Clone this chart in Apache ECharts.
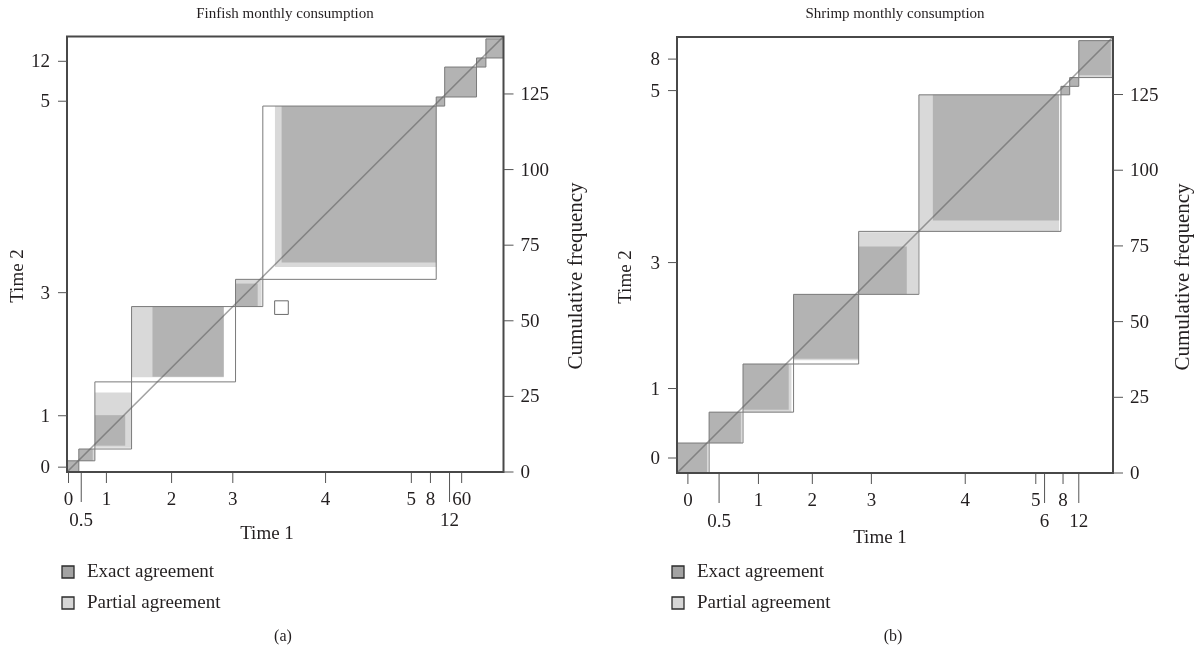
<!DOCTYPE html>
<html><head><meta charset="utf-8">
<script src="https://cdn.jsdelivr.net/npm/echarts@6/dist/echarts.min.js"></script>
<style>html,body{margin:0;padding:0;background:#fff}#c{width:1199px;height:656px}</style>
</head><body><div id="c"></div>
<script>
// ---------- DATA (cumulative frequency units) ----------
const N = 144;
// Panel (a) Finfish: each rectangle = [x0, x1, y0, y1]
const finCategories = ['0','0.5','1','2','3','4','5','8','12','60'];
const finBoxes = [
  [0,3.9,0,3.7],[3.9,9.2,3.7,7.6],[9.2,21.3,7.6,29.8],[21.3,55.6,29.8,54.7],
  [55.6,64.6,54.7,63.7],[64.6,121.8,63.7,121.0],[121.8,124.6,121.0,124.0],
  [124.6,135.1,124.0,133.9],[135.1,138.2,133.9,136.9],[138.2,144,136.9,143.2]
];
const finPartial = [
  [0,3.9,0,3.7],[3.9,9.2,3.7,7.6],[9.2,21.3,8.0,26.3],[21.3,51.7,31.3,54.7],
  [55.6,64.2,54.7,63.7],[68.6,121.8,67.8,121.0],[121.8,124.6,121.0,124.0],
  [124.6,135.1,124.0,133.9],[135.1,138.2,133.9,136.9],[138.2,144,136.9,143.2]
];
const finExact = [
  [0,3.9,0,3.7],[3.9,8.5,3.7,7.6],[9.2,19.2,8.7,18.8],[28.2,51.7,31.5,54.7],
  [55.6,62.9,54.7,62.3],[70.8,121.8,69.3,121.0],[121.8,124.6,121.0,124.0],
  [124.6,135.1,124.0,133.9],[135.1,138.2,133.9,136.9],[138.2,144,136.9,143.2]
];
const finEmpty = [[68.5,73.0,52.1,56.6]];
const finLeftTickPos = [1.6,18.6,59.3,122.6,135.8];
const finLeftTickLabels = ['0','1','3','5','12'];
const finBottomTickPos = [0.5,4.7,13.0,34.5,54.7,85.3,113.6,119.9,126.2,130.2];
const finBottomTickLabels = ['0','0.5','1','2','3','4','5','8','12','60'];
const finBottomTickLong = [0,1,0,0,0,0,0,0,1,0];

// Panel (b) Shrimp
const shrCategories = ['0','0.5','1','2','3','4','5','6','8','12'];
const shrBoxes = [
  [0,10.6,0,9.9],[10.6,21.8,9.9,20.1],[21.8,38.5,20.1,36.0],[38.5,60.0,36.0,59.0],
  [60.0,79.9,59.0,79.8],[79.9,126.8,79.8,124.9],[126.8,129.7,124.9,127.7],
  [129.7,132.7,127.7,130.6],[132.7,144,130.6,142.8]
];
const shrPartial = [
  [0,10.3,0,9.9],[10.6,21.5,9.9,20.1],[21.8,37.8,20.1,36.0],[38.5,60.0,37.2,59.0],
  [60.0,79.6,59.0,79.5],[79.9,126.2,79.8,124.9],[126.8,129.7,124.9,127.7],
  [129.7,132.7,127.7,130.6],[132.7,143.7,130.6,142.8]
];
const shrExact = [
  [0,9.9,0,9.9],[10.6,21.1,9.9,20.1],[21.8,36.9,20.9,36.0],[38.5,60.0,37.7,59.0],
  [60.0,75.9,59.0,74.8],[84.5,126.2,83.4,124.9],[126.8,129.7,124.9,127.7],
  [129.7,132.7,127.7,130.6],[132.7,143.3,131.4,142.8]
];
const shrLeftTickPos = [4.95,27.9,69.5,126.3,136.7];
const shrLeftTickLabels = ['0','1','3','5','8'];
const shrBottomTickPos = [3.6,13.9,26.9,44.7,64.2,95.2,118.5,121.4,127.5,132.7];
const shrBottomTickLabels = ['0','0.5','1','2','3','4','5','6','8','12'];
const shrBottomTickLong = [0,1,0,0,0,0,0,1,0,1];

const rightTicks = [0,25,50,75,100,125];

// ---------- RENDER ----------
const FONT = '"Liberation Serif", "DejaVu Serif", serif';
const TXT = '#231f20';
const chart = echarts.init(document.getElementById('c'), null, {renderer:'canvas'});

function rects(data, gi, style, z) {
  return {
    type:'custom', xAxisIndex:gi, yAxisIndex:gi, z:z, silent:true, animation:false,
    data:data,
    renderItem:function(params, api){
      const a = api.coord([api.value(0), api.value(2)]);
      const b = api.coord([api.value(1), api.value(3)]);
      return {type:'rect', shape:{x:Math.min(a[0],b[0]), y:Math.min(a[1],b[1]),
        width:Math.abs(b[0]-a[0]), height:Math.abs(b[1]-a[1])}, style:style};
    }
  };
}
function frame(gi) {
  return rects([[0,N,0,N]], gi, {fill:'none', stroke:'#484848', lineWidth:2}, 20);
}
function diag(gi) {
  return {type:'line', xAxisIndex:gi, yAxisIndex:gi, data:[[0,0],[N,N]], symbol:'none',
    silent:true, animation:false, z:10,
    lineStyle:{color:'rgba(95,95,95,0.58)', width:1.6}};
}
function leftTicks(pos, labels, gi) {
  return {type:'custom', xAxisIndex:gi, yAxisIndex:gi, z:20, silent:true, animation:false,
    data:pos.map(v=>[0,v]),
    renderItem:function(params, api){
      const p = api.coord([0, api.value(1)]);
      return {type:'group', children:[
        {type:'line', shape:{x1:p[0]-9, y1:p[1], x2:p[0], y2:p[1]}, style:{stroke:'#555', lineWidth:1}},
        {type:'text', style:{text:labels[params.dataIndex], x:p[0]-17, y:p[1]+1,
          textAlign:'right', textVerticalAlign:'middle', font:'19px '+FONT, fill:TXT}}
      ]};
    }};
}
function bottomTicks(pos, labels, longs, gi) {
  return {type:'custom', xAxisIndex:gi, yAxisIndex:gi, z:20, silent:true, animation:false,
    data:pos.map(v=>[v,0]),
    renderItem:function(params, api){
      const p = api.coord([api.value(0), 0]);
      const lg = longs[params.dataIndex];
      return {type:'group', children:[
        {type:'line', shape:{x1:p[0], y1:p[1]+1, x2:p[0], y2:p[1]+(lg?30:11)}, style:{stroke:'#555', lineWidth:1}},
        {type:'text', style:{text:labels[params.dataIndex], x:p[0], y:p[1]+(lg?49:28),
          textAlign:'center', textVerticalAlign:'middle', font:'19px '+FONT, fill:TXT}}
      ]};
    }};
}
function rightAxisTicks(gi) {
  return {type:'custom', xAxisIndex:gi, yAxisIndex:gi, z:20, silent:true, animation:false,
    data:rightTicks.map(v=>[N,v]),
    renderItem:function(params, api){
      const p = api.coord([N, api.value(1)]);
      return {type:'group', children:[
        {type:'line', shape:{x1:p[0], y1:p[1], x2:p[0]+10, y2:p[1]}, style:{stroke:'#555', lineWidth:1}},
        {type:'text', style:{text:String(rightTicks[params.dataIndex]), x:p[0]+17, y:p[1]+1,
          textAlign:'left', textVerticalAlign:'middle', font:'19px '+FONT, fill:TXT}}
      ]};
    }};
}
function panelSeries(gi, boxes, partial, exact, extra) {
  const s = [
    rects(boxes, gi, {fill:'#ffffff', stroke:'none'}, 1),
    rects(partial, gi, {fill:'#d9d9d9'}, 2),
    rects(exact, gi, {fill:'#b3b3b3'}, 3),
    rects(boxes, gi, {fill:'none', stroke:'#7a7a7a', lineWidth:1}, 4)
  ];
  if (extra) s.push(rects(extra, gi, {fill:'#fff', stroke:'#6a6a6a', lineWidth:1}, 4));
  s.push(diag(gi));
  s.push(frame(gi));
  return s;
}

const series = [].concat(
  panelSeries(0, finBoxes, finPartial, finExact, finEmpty),
  [leftTicks(finLeftTickPos, finLeftTickLabels, 0),
   bottomTicks(finBottomTickPos, finBottomTickLabels, finBottomTickLong, 0),
   rightAxisTicks(0)],
  panelSeries(1, shrBoxes, shrPartial, shrExact, null),
  [leftTicks(shrLeftTickPos, shrLeftTickLabels, 1),
   bottomTicks(shrBottomTickPos, shrBottomTickLabels, shrBottomTickLong, 1),
   rightAxisTicks(1)]
);

function txt(x, y, text, size, rot, align) {
  return {type:'text', x:x, y:y, rotation:rot||0, silent:true,
    style:{text:text, x:0, y:0, textAlign:align||'center', textVerticalAlign:'middle',
      font:size+'px '+FONT, fill:TXT}};
}
function legend(x, y) {
  return [
    {type:'rect', shape:{x:x, y:y, width:12, height:12}, style:{fill:'#a3a3a3', stroke:'#2b2b2b', lineWidth:1.3}},
    txt(x+25, y+6, 'Exact agreement', 19, 0, 'left'),
    {type:'rect', shape:{x:x, y:y+31, width:12, height:12}, style:{fill:'#d6d6d6', stroke:'#2b2b2b', lineWidth:1.3}},
    txt(x+25, y+37, 'Partial agreement', 19, 0, 'left')
  ];
}

const option = {
  animation:false,
  backgroundColor:'#fff',
  grid:[
    {left:67, top:36.5, width:436.5, height:435.5},
    {left:677, top:37, width:436, height:436}
  ],
  xAxis:[
    {gridIndex:0, type:'value', min:0, max:N, show:false},
    {gridIndex:1, type:'value', min:0, max:N, show:false}
  ],
  yAxis:[
    {gridIndex:0, type:'value', min:0, max:N, show:false},
    {gridIndex:1, type:'value', min:0, max:N, show:false}
  ],
  series:series,
  graphic:[].concat(
    [txt(285, 14, 'Finfish monthly consumption', 15),
     txt(895, 14, 'Shrimp monthly consumption', 15),
     txt(18, 276, 'Time 2', 19, Math.PI/2),
     txt(626, 277, 'Time 2', 19, Math.PI/2),
     txt(576, 276, 'Cumulative frequency', 21, Math.PI/2),
     txt(1183, 277, 'Cumulative frequency', 21, Math.PI/2),
     txt(267, 534, 'Time 1', 19),
     txt(880, 538, 'Time 1', 19),
     txt(283, 637, '(a)', 16),
     txt(893, 637, '(b)', 16)],
    legend(62, 566),
    legend(672, 566)
  )
};
chart.setOption(option);
</script>
</body></html>
